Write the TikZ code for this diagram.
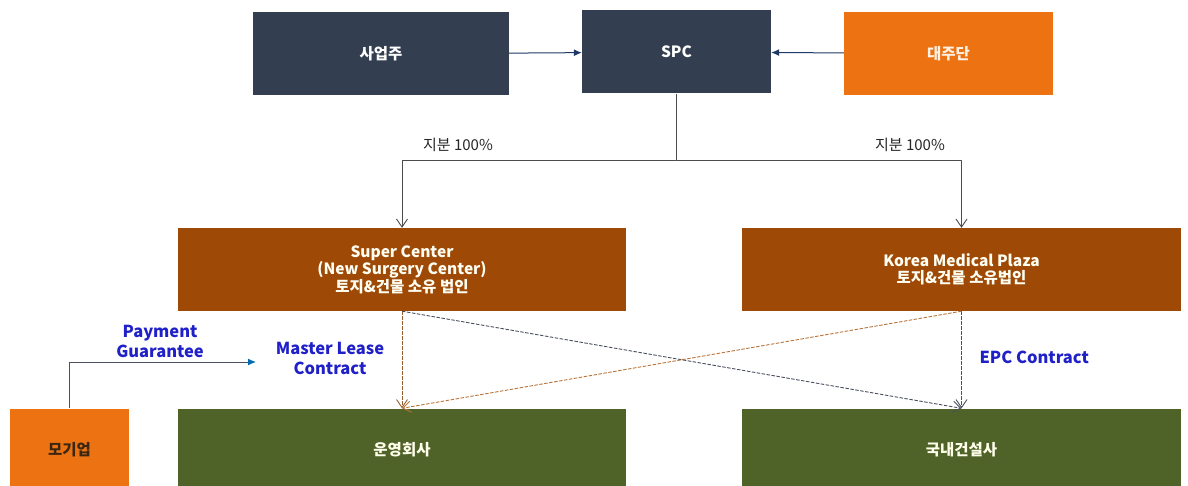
\documentclass[tikz,border=0pt]{standalone}
\usepackage{fontspec}
\setmainfont{Noto Sans CJK KR}
\usetikzlibrary{arrows.meta}

\definecolor{boxnavy}{HTML}{333F50}
\definecolor{boxorange}{HTML}{EC7212}
\definecolor{boxbrown}{HTML}{9E4A06}
\definecolor{boxgreen}{HTML}{4F6228}
\definecolor{linknavy}{HTML}{1F3864}
\definecolor{linkgray}{HTML}{4A5060}
\definecolor{linkrust}{HTML}{B8743A}
\definecolor{labelblue}{HTML}{2020C8}

\begin{document}
\begin{tikzpicture}[x=1pt, y=-1pt, line join=round,
  box/.style={rectangle, inner sep=0pt, align=center, text=white,
    font=\fontsize{15.5}{17.5}\selectfont\bfseries, minimum height=83pt},
  navybox/.style={box, fill=boxnavy},
  orangebox/.style={box, fill=boxorange, text=orange!10},
  brownbox/.style={box, fill=boxbrown, text=white!95!yellow},
  greenbox/.style={box, fill=boxgreen, text=white!92!yellow},
  feed/.style={line width=1pt, draw=linknavy, -{Latex[length=8pt,width=7pt]}},
  share/.style={line width=0.9pt, draw=black!70, -{Straight Barb[length=8pt,width=11pt]}},
  deal/.style={line width=0.9pt, dash pattern=on 3.5pt off 1.5pt, -{Straight Barb[length=8pt,width=11pt]}},
  tag/.style={font=\fontsize{15}{17}\selectfont, text=black!85},
  bluetag/.style={font=\fontsize{16.5}{20}\selectfont\bfseries, text=labelblue, align=center}]
  \useasboundingbox (0,0) rectangle (1188,486);

  % top row
  \node[navybox, minimum width=256pt] (owner) at (381,54) {사업주};
  \node[navybox, minimum width=189pt] (spc) at (676.5,52) {SPC};
  \node[orangebox, minimum width=209pt] (lender) at (948.5,53.5) {대주단};

  % land & building companies
  \node[brownbox, minimum width=448pt] (scenter) at (402,269.5)
    {Super Center\\(New Surgery Center)\\토지\&건물 소유 법인};
  \node[brownbox, minimum width=439pt] (kmp) at (961.5,269.5)
    {Korea Medical Plaza\\토지\&건물 소유법인};

  % bottom row, cut off by the page edge
  \node[orangebox, minimum width=119pt, text=black!70!brown] (parent) at (69.5,450) {모기업};
  \node[greenbox, minimum width=448pt] (operator) at (402,450) {운영회사};
  \node[greenbox, minimum width=439pt] (builder) at (961.5,450) {국내건설사};

  \draw[feed] (owner) -- (spc);
  \draw[feed] (lender) -- (spc);

  % 100% ownership
  \coordinate (split) at (676.5,160);
  \draw[share] (spc.south) -- (split) -| (scenter.north);
  \draw[share] (split) -| (kmp.north);
  \node[tag] (shareleft) at (458,145) {지분 100\%};
  \node[tag] (shareright) at (910,145) {지분 100\%};

  % contracts
  \draw[deal, draw=linkrust!80!black] (scenter.south) -- (operator.north);
  \draw[deal, draw=linkgray] (scenter.south) -- (builder.north);
  \draw[deal, draw=linkgray] (kmp.south) -- (builder.north);
  \draw[deal, draw=linkrust] (kmp.south) -- (operator.north);
  \node[bluetag] (lease) at (330,358) {Master Lease\\Contract};
  \node[bluetag, anchor=west] (epc) at (976,357) {EPC Contract};

  % guarantee
  \coordinate (pgend) at (256,362);
  \draw[line width=1pt, draw=linkgray, -{Latex[length=8pt,width=7pt,color=blue!40!cyan!70!black]}]
    (parent.north) |- (pgend);
  \node[bluetag] (guarantee) at (160,341) {Payment\\Guarantee};
\end{tikzpicture}
\end{document}
